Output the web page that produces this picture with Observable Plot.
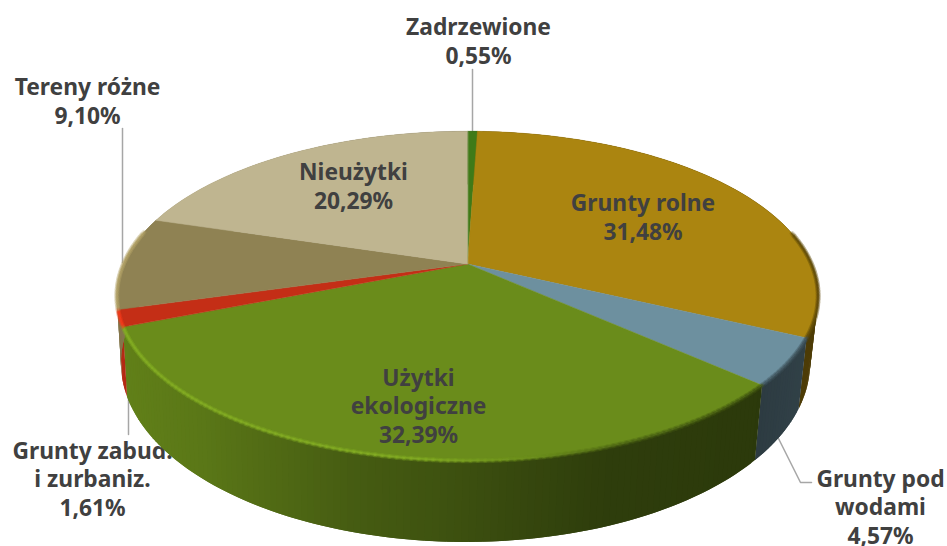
<!DOCTYPE html>
<html lang="pl">
<head>
<meta charset="utf-8">
<script src="https://cdn.jsdelivr.net/npm/d3@7"></script>
<script src="https://cdn.jsdelivr.net/npm/@observablehq/plot@0.6"></script>
<style>html,body{margin:0;padding:0;background:#fff;overflow:hidden}</style>
</head>
<body>
<div id="chart"></div>
<script>
// Data, clockwise from twelve o'clock
const names = ["Zadrzewione", "Grunty rolne", "Grunty pod\nwodami", "Użytki\nekologiczne", "Grunty zabud.\ni zurbaniz.", "Tereny różne", "Nieużytki"];
const values = [0.55, 31.48, 4.57, 32.39, 1.61, 9.10, 20.29];
const colors = ["#3f7a18", "#ab8510", "#6d909f", "#6a8c1b", "#c42e16", "#8f8253", "#bfb590"];

// Layout
const labelX = [478, 642.5, 880, 418, 92, 87, 353];
const labelY = [40, 216, 506, 405, 478, 100, 185];
const insideLabel = [false, true, false, true, false, false, true];
const leaders = [
  [[472, 69], [472, 130]],
  [[778, 438], [800, 482], [811, 482]],
  [[128, 392], [128, 434]],
  [[122, 128], [122, 262]]
];

// Perspective of the pie disc
const persp = 0.194;
const topPlane = {cx: 467, cy: 263.5, rx: 344, ry: 158.5};
const botPlane = {cx: 465, cy: 328, rx: 338, ry: 172};
const rim = (p, a) => {
  const u = Math.sin(a), v = -Math.cos(a), w = 1 - persp * v;
  return {x: p.cx + p.rx * u / w, y: p.cy + p.ry * v / w};
};
const sideShade = d3.scaleLinear([115, 200, 350, 450, 600, 760, 820], [0.92, 0.85, 0.66, 0.58, 0.44, 0.41, 0.46]).clamp(true);
const bevelShade = d3.scaleLinear([115, 420, 530, 620, 820], [1.25, 1.25, 1.02, 0.7, 0.55]).clamp(true);
const tint = (c, f) => {
  const r = d3.rgb(c);
  return d3.rgb(Math.min(255, r.r * f), Math.min(255, r.g * f), Math.min(255, r.b * f)).formatRgb();
};

const arcs = d3.pie().sort(null).value(d => d)(values);
const degree = Math.PI / 180;

const faces = [], strips = [], bevel = [];
arcs.forEach((arc, i) => {
  const n = Math.max(2, Math.ceil((arc.endAngle - arc.startAngle) / degree));
  const da = (arc.endAngle - arc.startAngle) / n;
  faces.push({id: i, fill: colors[i], x: topPlane.cx, y: topPlane.cy});
  for (let j = 0; j <= n; ++j) {
    faces.push({id: i, fill: colors[i], ...rim(topPlane, arc.startAngle + j * da)});
  }
  for (let j = 0; j < n; ++j) {
    const a0 = arc.startAngle + j * da, a1 = a0 + da;
    const t0 = rim(topPlane, a0), t1 = rim(topPlane, a1);
    const id = `${i}-${j}`;
    const xm = (t0.x + t1.x) / 2;
    // each strip runs under the next one so that no seam shows
    const over = j < n - 1 ? a1 + da : a1;
    const fill = tint(colors[i], sideShade(xm));
    [t0, rim(topPlane, over), rim(botPlane, over), rim(botPlane, a0)].forEach(p => strips.push({id, fill, ...p}));
    if (-Math.cos((a0 + a1) / 2) > -0.2) {
      const stroke = tint(colors[i], bevelShade(xm));
      bevel.push({id, stroke, ...t0}, {id, stroke, ...t1});
    }
  }
});

const leaderRows = leaders.flatMap((l, id) => l.map(([x, y]) => ({id, x, y})));
const labels = names.map((n, i) => ({
  text: `${n}\n${values[i].toFixed(2).replace(".", ",")}%`,
  x: labelX[i], y: labelY[i], inside: insideLabel[i]
}));
const textOpts = {
  x: "x", y: "y", text: "text", fill: "#404040", fontSize: 22.8, fontWeight: 700,
  lineHeight: 1.23, textAnchor: "middle", stroke: null
};

const chart = Plot.plot({
  width: 947, height: 546,
  margin: 0,
  style: {fontFamily: "'Noto Sans', sans-serif", background: "#fff"},
  x: {type: "linear", domain: [0, 947], range: [0, 947], axis: null},
  y: {type: "linear", domain: [0, 546], range: [0, 546], axis: null},
  color: {type: "identity"},
  marks: [
    Plot.line(leaderRows, {x: "x", y: "y", z: "id", stroke: "#a6a6a6", strokeWidth: 1.5, curve: "linear"}),
    Plot.text(labels.filter(d => !d.inside), textOpts),
    Plot.line(strips, {x: "x", y: "y", z: "id", fill: "fill", stroke: "none", curve: "linear-closed"}),
    Plot.line(faces, {x: "x", y: "y", z: "id", fill: "fill", stroke: "fill", strokeWidth: 0.5, curve: "linear-closed"}),
    Plot.line(bevel, {x: "x", y: "y", z: "id", stroke: "stroke", strokeWidth: 5, strokeOpacity: 0.25, curve: "linear"}),
    Plot.line(bevel, {x: "x", y: "y", z: "id", stroke: "stroke", strokeWidth: 2.5, strokeOpacity: 0.55, curve: "linear"}),
    Plot.text(labels.filter(d => d.inside), textOpts)
  ]
});
document.getElementById("chart").append(chart);
</script>
</body>
</html>
